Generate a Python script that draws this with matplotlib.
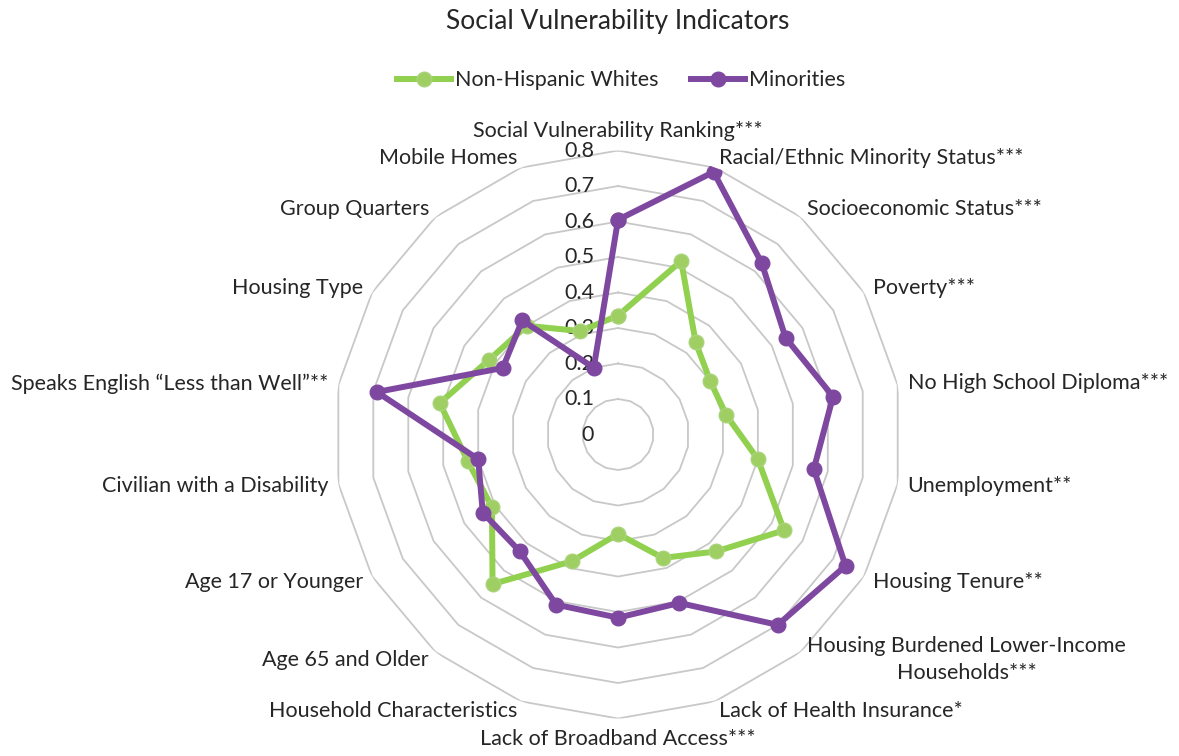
import numpy as np
import matplotlib
matplotlib.use("Agg")
import matplotlib.pyplot as plt
from matplotlib.transforms import ScaledTranslation

plt.rcParams['font.family'] = ['Lato', 'DejaVu Sans']

# categories, clockwise from the top
categories = [
    "Social Vulnerability Ranking***",
    "Racial/Ethnic Minority Status***",
    "Socioeconomic Status***",
    "Poverty***",
    "No High School Diploma***",
    "Unemployment**",
    "Housing Tenure**",
    "Housing Burdened Lower-Income\nHouseholds***",
    "Lack of Health Insurance*",
    "Lack of Broadband Access***",
    "Household Characteristics",
    "Age 65 and Older",
    "Age 17 or Younger",
    "Civilian with a Disability",
    "Speaks English \u201cLess than Well\u201d**",
    "Housing Type",
    "Group Quarters",
    "Mobile Homes",
]
whites = [0.335, 0.52, 0.34, 0.30, 0.31, 0.40, 0.54, 0.43, 0.37,
          0.28, 0.38, 0.55, 0.41, 0.43, 0.51, 0.42, 0.40, 0.31]
minorities = [0.605, 0.787, 0.63, 0.545, 0.615, 0.56, 0.74, 0.70, 0.505,
              0.516, 0.51, 0.43, 0.44, 0.40, 0.69, 0.375, 0.42, 0.20]
ticks = [0, 0.1, 0.2, 0.3, 0.4, 0.5, 0.6, 0.7, 0.8]

green = '#92D050'
purple = '#7E48A0'
txt = '#262626'
fs = 15.5

fig = plt.figure(figsize=(11.79, 7.56), dpi=100)
ax = fig.add_axes([0.2833, 0.0496, 0.4818, 0.7513], projection='polar')
ax.set_theta_offset(np.pi / 2)
ax.set_theta_direction(-1)
ax.set_ylim(0, 0.8)
ax.set_axis_off()

n = len(categories)
angles = np.linspace(0, 2 * np.pi, n, endpoint=False)
closed = np.append(angles, angles[0])

# polygon grid rings
for v in ticks[1:]:
    ax.plot(closed, [v] * (n + 1), color='#C8C8C8', lw=1.3, zorder=1)

# radial value labels
off = ax.transData + ScaledTranslation(-0.24, 0, fig.dpi_scale_trans)
for v in ticks:
    ax.text(0, v, f"{v:g}", transform=off, ha='right', va='center',
            fontsize=fs, color=txt, zorder=2)

l1, = ax.plot(closed, whites + whites[:1], color=green, lw=4.3, marker='o',
              ms=10.5, mfc='#9FCF63', mec='#A9D37A', mew=1, zorder=3,
              label='Non-Hispanic Whites')
l2, = ax.plot(closed, minorities + minorities[:1], color=purple, lw=4.3,
              marker='o', ms=10.5, mfc=purple, mec=purple, zorder=4,
              label='Minorities')

# category labels
r_lab = 0.8 * 294 / 284
for ang, lab in zip(angles, categories):
    deg = np.degrees(ang)
    if np.isclose(deg, 0):
        ha, va = 'center', 'bottom'
    elif np.isclose(deg, 180):
        ha, va = 'center', 'top'
    elif deg < 180:
        ha, va = 'left', 'center'
    else:
        ha, va = 'right', 'center'
    ax.text(ang, r_lab, lab, ha=ha, va=va, multialignment='center',
            fontsize=fs, color=txt, linespacing=1.45)

fig.legend(handles=[l1, l2], loc='center', bbox_to_anchor=(0.527, 0.894),
           ncol=2, frameon=False, fontsize=fs, handlelength=2.5,
           handletextpad=0.2, columnspacing=1.5, labelcolor=txt)
fig.text(0.524, 1 - 21 / 756, "Social Vulnerability Indicators",
         ha='center', va='center', fontsize=19, color=txt)

fig.savefig("out.png", dpi=100)
